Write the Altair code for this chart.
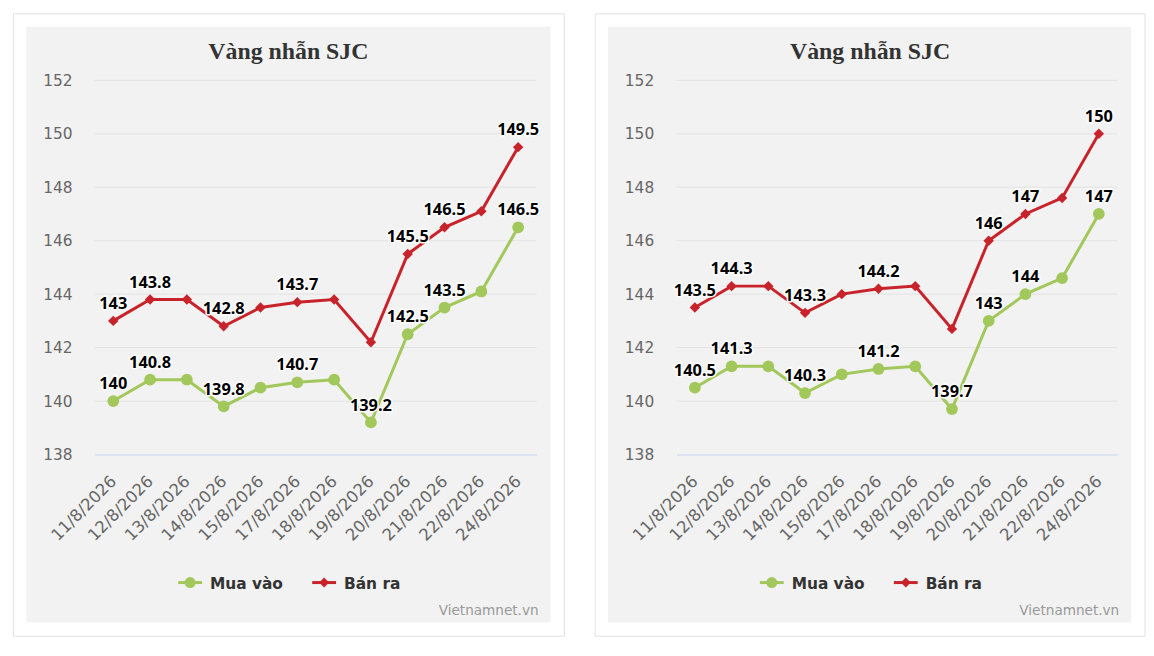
import altair as alt
import pandas as pd

# ---------------- data ----------------
dates = ["11/8/2026", "12/8/2026", "13/8/2026", "14/8/2026", "15/8/2026", "17/8/2026",
         "18/8/2026", "19/8/2026", "20/8/2026", "21/8/2026", "22/8/2026", "24/8/2026"]
series_names = ["Mua vào", "Bán ra"]

left_buy = [140, 140.8, 140.8, 139.8, 140.5, 140.7, 140.8, 139.2, 142.5, 143.5, 144.1, 146.5]
left_sell = [143, 143.8, 143.8, 142.8, 143.5, 143.7, 143.8, 142.2, 145.5, 146.5, 147.1, 149.5]
left_buy_shown = [1, 1, 0, 1, 0, 1, 0, 1, 1, 1, 0, 1]
left_sell_shown = [1, 1, 0, 1, 0, 1, 0, 0, 1, 1, 0, 1]

right_buy = [140.5, 141.3, 141.3, 140.3, 141.0, 141.2, 141.3, 139.7, 143, 144, 144.6, 147]
right_sell = [143.5, 144.3, 144.3, 143.3, 144.0, 144.2, 144.3, 142.7, 146, 147, 147.6, 150]
right_buy_shown = [1, 1, 0, 1, 0, 1, 0, 1, 1, 1, 0, 1]
right_sell_shown = [1, 1, 0, 1, 0, 1, 0, 0, 1, 1, 0, 1]

y_ticks = [138, 140, 142, 144, 146, 148, 150, 152]
title_text = "Vàng nhẫn SJC"
credit_text = "Vietnamnet.vn"

colors = ["#a2c75b", "#c8232a"]
H = 377
AXIS_FONT = "DejaVu Sans"
LABEL_FONT = "Noto Sans"


def panel(buy, sell, buy_shown, sell_shown, W):
    rows = []
    for i, d in enumerate(dates):
        rows.append(dict(date=d, series=series_names[0], value=buy[i], shown=buy_shown[i], order=i))
        rows.append(dict(date=d, series=series_names[1], value=sell[i], shown=sell_shown[i], order=i))
    df = pd.DataFrame(rows)
    one = pd.DataFrame({"k": [0]})
    grid_df = pd.DataFrame({"v": [t for t in y_ticks if t != 138]})

    y_scale = alt.Scale(domain=[138, 152], nice=False, zero=False)
    y_axis = alt.Axis(title=None, values=y_ticks, domain=False, ticks=False, grid=False,
                      labelFont=AXIS_FONT, labelFontSize=15.5, labelColor="#666666",
                      labelPadding=23, zindex=1)
    x_axis = alt.Axis(title=None, labelAngle=315, labelAlign="right", labelBaseline="middle",
                      labelPadding=24, labelFont=AXIS_FONT, labelFontSize=16.5,
                      labelColor="#666666", ticks=False, grid=False, domainColor="#ccd6eb",
                      domainWidth=1, zindex=1, labelOverlap=False)
    X = alt.X("date:N", sort=dates, axis=x_axis, scale=alt.Scale(type="point", padding=0.5))
    Y = alt.Y("value:Q", scale=y_scale, axis=y_axis)
    color = alt.Color("series:N", scale=alt.Scale(domain=series_names, range=colors), legend=None)

    card = alt.Chart(one).mark_rect(fill="white", stroke="#e2e2e2", strokeWidth=1).encode(
        x=alt.value(-82), x2=alt.value(W + 28), y=alt.value(-67), y2=alt.value(560))
    panel_bg = alt.Chart(one).mark_rect(fill="#f2f2f2").encode(
        x=alt.value(-69), x2=alt.value(W + 14), y=alt.value(-54), y2=alt.value(546))
    grid = alt.Chart(grid_df).mark_rule(color="#e3e3e3", strokeWidth=1).encode(
        y=alt.Y("v:Q", scale=y_scale, axis=y_axis), x=alt.value(0), x2=alt.value(W))

    base = alt.Chart(df).encode(x=X, y=Y)
    lines = base.mark_line(strokeWidth=3).encode(color=color, order=alt.Order("order:Q"))
    pts_buy = base.transform_filter(alt.datum.series == series_names[0]).mark_point(
        shape="circle", filled=True, opacity=1, size=140, color=colors[0])
    pts_sell = base.transform_filter(alt.datum.series == series_names[1]).mark_point(
        shape="diamond", filled=True, opacity=1, size=110, color=colors[1])

    lbl = base.transform_filter(alt.datum.shown == 1)
    halo = lbl.mark_text(font=LABEL_FONT, fontWeight="bold", fontSize=16.5, dy=-12,
                         baseline="alphabetic", align="center", stroke="white",
                         strokeWidth=3, strokeJoin="round", fill="white").encode(
        text=alt.Text("value:Q", format="~g"))
    labels = lbl.mark_text(font=LABEL_FONT, fontWeight="bold", fontSize=16.5, dy=-12,
                           baseline="alphabetic", align="center", color="#000000").encode(
        text=alt.Text("value:Q", format="~g"))

    title = alt.Chart(one).mark_text(font="Liberation Serif", fontWeight="bold", fontSize=24,
                                     color="#333333", align="center", baseline="alphabetic").encode(
        x=alt.value(195), y=alt.value(-21), text=alt.value(title_text))

    leg_line_g = alt.Chart(one).mark_rule(color=colors[0], strokeWidth=3).encode(
        x=alt.value(84), x2=alt.value(108), y=alt.value(506))
    leg_pt_g = alt.Chart(one).mark_point(shape="circle", filled=True, opacity=1, size=121,
                                         color=colors[0]).encode(x=alt.value(96), y=alt.value(506))
    leg_txt_g = alt.Chart(one).mark_text(font=AXIS_FONT, fontWeight="bold", fontSize=15.5,
                                         color="#333333", align="left", baseline="middle").encode(
        x=alt.value(116), y=alt.value(507), text=alt.value(series_names[0]))
    leg_line_r = alt.Chart(one).mark_rule(color=colors[1], strokeWidth=3).encode(
        x=alt.value(219), x2=alt.value(243), y=alt.value(506))
    leg_pt_r = alt.Chart(one).mark_point(shape="diamond", filled=True, opacity=1, size=100,
                                         color=colors[1]).encode(x=alt.value(231), y=alt.value(506))
    leg_txt_r = alt.Chart(one).mark_text(font=AXIS_FONT, fontWeight="bold", fontSize=15.5,
                                         color="#333333", align="left", baseline="middle").encode(
        x=alt.value(251), y=alt.value(507), text=alt.value(series_names[1]))

    credit = alt.Chart(one).mark_text(font=AXIS_FONT, fontSize=13.7, color="#999999",
                                      align="right", baseline="middle").encode(
        x=alt.value(W + 2), y=alt.value(535), text=alt.value(credit_text))

    return alt.layer(card, panel_bg, grid, lines, pts_buy, pts_sell, halo, labels, title,
                     leg_line_g, leg_pt_g, leg_txt_g, leg_line_r, leg_pt_r, leg_txt_r,
                     credit).properties(width=W, height=H)


left = panel(left_buy, left_sell, left_buy_shown, left_sell_shown, 445)
right = panel(right_buy, right_sell, right_buy_shown, right_sell_shown, 444)

chart = alt.hconcat(left, right, spacing=29).properties(
    padding={"left": 4.5, "top": 2.5, "right": 0, "bottom": 0},
    background="white",
).configure_view(strokeWidth=0)

chart.save("out.html", embed_options={"renderer": "svg", "actions": False})
